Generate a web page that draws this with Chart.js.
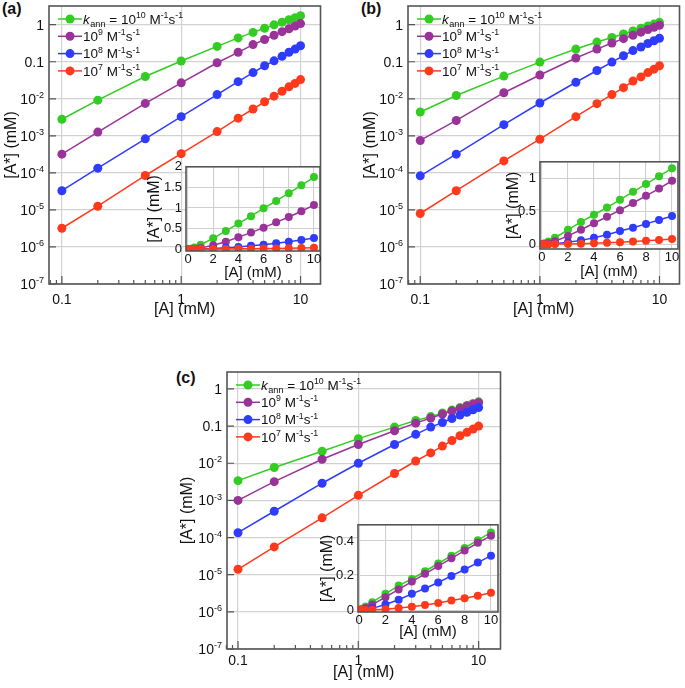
<!DOCTYPE html>
<html>
<head>
<meta charset="utf-8">
<script src="https://cdn.jsdelivr.net/npm/chart.js@4.4.0/dist/chart.umd.min.js"></script>
<style>
  body { margin: 0; background: #fff; width: 685px; height: 688px; overflow: hidden; position: relative;
         font-family: "Liberation Sans", Arial, sans-serif; }
  canvas { position: absolute; }
  .panel { position: absolute; font-weight: bold; font-size: 16px; line-height: 16px; color: #111; }
</style>
</head>
<body>
<div class="panel" style="left:2px;top:1px">(a)</div>
<div class="panel" style="left:361px;top:1px">(b)</div>
<div class="panel" style="left:176px;top:370px">(c)</div>
<script>
// concentrations of A (mM)
const xVals = [0.1, 0.2, 0.5, 1, 2, 3, 4, 5, 6, 7, 8, 9, 10];

// panel (a)
const aGreen  = [2.8e-3, 9.2e-3, 0.040, 0.105, 0.26, 0.44, 0.62, 0.80, 0.99, 1.17, 1.36, 1.55, 1.75];
const aPurple = [3.2e-4, 1.26e-3, 7.5e-3, 0.027, 0.094, 0.18, 0.29, 0.40, 0.52, 0.65, 0.78, 0.92, 1.07];
const aBlue   = [3.3e-5, 1.34e-4, 8.3e-4, 3.3e-3, 0.013, 0.029, 0.051, 0.078, 0.106, 0.14, 0.18, 0.22, 0.27];
const aRed    = [3.2e-6, 1.26e-5, 8.5e-5, 3.3e-4, 1.3e-3, 3.0e-3, 5.3e-3, 8.3e-3, 0.0118, 0.016, 0.021, 0.026, 0.033];

// panel (b)
const bGreen  = [4.4e-3, 0.0123, 0.041, 0.098, 0.22, 0.34, 0.45, 0.56, 0.68, 0.80, 0.92, 1.04, 1.16];
const bPurple = [7.5e-4, 2.6e-3, 0.0146, 0.044, 0.126, 0.22, 0.32, 0.42, 0.52, 0.63, 0.74, 0.85, 0.97];
const bBlue   = [8.3e-5, 3.2e-4, 2.0e-3, 7.7e-3, 0.028, 0.058, 0.098, 0.145, 0.20, 0.25, 0.31, 0.37, 0.43];
const bRed    = [8.0e-6, 3.3e-5, 2.1e-4, 8.1e-4, 3.3e-3, 7.4e-3, 0.013, 0.020, 0.030, 0.039, 0.051, 0.063, 0.078];

// panel (c)
const cGreen  = [3.4e-3, 7.7e-3, 0.021, 0.046, 0.094, 0.142, 0.18, 0.225, 0.27, 0.315, 0.36, 0.405, 0.45];
const cPurple = [1.0e-3, 3.2e-3, 0.0128, 0.032, 0.075, 0.12, 0.165, 0.21, 0.255, 0.30, 0.345, 0.39, 0.43];
const cBlue   = [1.35e-4, 5.1e-4, 2.9e-3, 0.010, 0.032, 0.060, 0.094, 0.125, 0.16, 0.198, 0.235, 0.275, 0.315];
const cRed    = [1.4e-5, 5.6e-5, 3.4e-4, 1.37e-3, 5.3e-3, 0.0115, 0.019, 0.029, 0.041, 0.055, 0.068, 0.083, 0.10];

// legend entries (^{} superscript, _{} subscript, *..* italic)
const seriesLabels = ['*k*_{ann} = 10^{10} M^{-1}s^{-1}', '10^{9} M^{-1}s^{-1}', '10^{8} M^{-1}s^{-1}', '10^{7} M^{-1}s^{-1}'];
const colors = ['#33cc22', '#993399', '#2f3cff', '#ff3a1c'];

// main (log-log) axes
const logXTicks = [0.1, 1, 10];
const logXLabels = ['0.1', '1', '10'];
const logXMinor = [0.08, 0.09, 0.2, 0.3, 0.4, 0.5, 0.6, 0.7, 0.8, 0.9, 2, 3, 4, 5, 6, 7, 8, 9];
const logYTicks = [1e-7, 1e-6, 1e-5, 1e-4, 1e-3, 1e-2, 0.1, 1];
const logYLabels = ['10^{-7}', '10^{-6}', '10^{-5}', '10^{-4}', '10^{-3}', '10^{-2}', '0.1', '1'];

// inset (linear) axes
const linXTicks = [0, 2, 4, 6, 8, 10];
const linXLabels = ['0', '2', '4', '6', '8', '10'];
const aInsetYTicks = [0, 0.5, 1, 1.5, 2];
const aInsetYLabels = ['0', '0.5', '1', '1.5', '2'];
const bInsetYTicks = [0, 0.5, 1];
const bInsetYLabels = ['0', '0.5', '1'];
const cInsetYTicks = [0, 0.2, 0.4];
const cInsetYLabels = ['0', '0.2', '0.4'];

const FONT = '"Liberation Sans", Arial, sans-serif';

function parseRich(s) {
  const out = [];
  const re = /\^\{([^}]*)\}|_\{([^}]*)\}|\*([^*]*)\*|([^^_*]+)/g;
  let m;
  while ((m = re.exec(s))) {
    if (m[1] !== undefined) out.push({ t: m[1], k: 'sup' });
    else if (m[2] !== undefined) out.push({ t: m[2], k: 'sub' });
    else if (m[3] !== undefined) out.push({ t: m[3], k: 'it' });
    else out.push({ t: m[4], k: 'n' });
  }
  return out;
}

function partFont(k, size) {
  if (k === 'sup') return (size * 0.65) + 'px ' + FONT;
  if (k === 'sub') return (size * 0.68) + 'px ' + FONT;
  if (k === 'it') return 'italic ' + size + 'px ' + FONT;
  return size + 'px ' + FONT;
}

function richWidth(ctx, text, size) {
  let w = 0;
  parseRich(text).forEach(p => { ctx.font = partFont(p.k, size); w += ctx.measureText(p.t).width; });
  return w;
}

// y is the vertical middle of the base text
function drawRich(ctx, text, x, y, size) {
  ctx.textBaseline = 'alphabetic';
  ctx.textAlign = 'left';
  ctx.fillStyle = '#111';
  const base = y + size * 0.36;
  parseRich(text).forEach(p => {
    let by = base;
    if (p.k === 'sup') by = base - size * 0.42;
    else if (p.k === 'sub') by = base + size * 0.22;
    ctx.font = partFont(p.k, size);
    ctx.fillText(p.t, x, by);
    x += ctx.measureText(p.t).width + (p.k === 'it' ? 0.5 : 0);
  });
}

const framePlugin = {
  id: 'frame',
  beforeDraw(c, args, o) {
    if (!o.fill) return;
    const a = c.chartArea;
    c.ctx.save();
    c.ctx.fillStyle = '#fff';
    c.ctx.fillRect(a.left, a.top, a.right - a.left, a.bottom - a.top);
    c.ctx.restore();
  },
  afterDraw(c, args, o) {
    const a = c.chartArea, ctx = c.ctx;
    ctx.save();
    ctx.strokeStyle = '#555';
    ctx.lineWidth = 1.6;
    ctx.strokeRect(a.left, a.top, a.right - a.left, a.bottom - a.top);
    if (o.ticks) {
      const xs = c.scales.x, ys = c.scales.y;
      ctx.lineWidth = 1.2;
      ctx.beginPath();
      xs.ticks.forEach(t => { const p = xs.getPixelForValue(t.value); ctx.moveTo(p, a.bottom); ctx.lineTo(p, a.bottom - 8); });
      (o.minor || []).forEach(v => { const p = xs.getPixelForValue(v); ctx.moveTo(p, a.bottom); ctx.lineTo(p, a.bottom - 4); });
      ys.ticks.forEach(t => { const p = ys.getPixelForValue(t.value); ctx.moveTo(a.left, p); ctx.lineTo(a.left + 7, p); });
      ctx.stroke();
      // y tick labels with real superscripts, placed by the y scale
      ys.ticks.forEach((t, i) => {
        const txt = logYLabels[i];
        const w = richWidth(ctx, txt, 14);
        drawRich(ctx, txt, a.left - 5 - w, ys.getPixelForValue(t.value), 14);
      });
    }
    ctx.restore();
  }
};

const legendPlugin = {
  id: 'richLegend',
  afterDraw(c, args, o) {
    if (!o.show) return;
    const a = c.chartArea, ctx = c.ctx;
    ctx.save();
    c.data.datasets.forEach((ds, i) => {
      const y = a.top + 13 + i * 17.3, x0 = a.left + 9;
      ctx.strokeStyle = ds.borderColor;
      ctx.lineWidth = 1.5;
      ctx.beginPath(); ctx.moveTo(x0, y); ctx.lineTo(x0 + 24, y); ctx.stroke();
      ctx.fillStyle = ds.borderColor;
      ctx.beginPath(); ctx.arc(x0 + 12, y, 4.5, 0, Math.PI * 2); ctx.fill();
      drawRich(ctx, ds.label, x0 + 25, y, 13.5);
    });
    ctx.restore();
  }
};

function makeCanvas(left, top, w, h) {
  const cv = document.createElement('canvas');
  cv.width = w; cv.height = h;
  cv.style.left = left + 'px'; cv.style.top = top + 'px';
  document.body.appendChild(cv);
  return cv;
}

function datasets(series, radius) {
  return series.map((s, i) => ({
    label: seriesLabels[i],
    data: xVals.map((x, j) => ({ x: x, y: s[j] })),
    borderColor: colors[i],
    backgroundColor: colors[i],
    borderWidth: 1.5,
    pointRadius: radius,
    pointHoverRadius: radius,
    pointBorderWidth: 0,
    order: 3 - i
  }));
}

function mainChart(b, series) {
  const left = b.L - 49, top = b.T - 6;
  const cv = makeCanvas(left, top, b.R + 4 - left, b.B + 40 - top);
  new Chart(cv, {
    type: 'line',
    data: { datasets: datasets(series, 4.5) },
    options: {
      responsive: false, animation: false, events: [],
      layout: { padding: { left: 0, top: 6, right: 4, bottom: 0 } },
      plugins: { legend: { display: false }, tooltip: { enabled: false },
                 frame: { ticks: true, minor: logXMinor }, richLegend: { show: true } },
      scales: {
        x: {
          type: 'logarithmic', min: b.xmin, max: b.xmax,
          afterBuildTicks: s => { s.ticks = logXTicks.map(v => ({ value: v })); },
          afterFit: s => { s.height = 40; },
          grid: { color: '#d2d2d2', lineWidth: 1.2, drawTicks: false },
          border: { display: false },
          ticks: { callback: (v, i) => logXLabels[i], padding: b.xlp, autoSkip: false, maxRotation: 0,
                   color: '#111', font: { family: FONT, size: 14 } },
          title: { display: true, text: '[A] (mM)', color: '#111', font: { family: FONT, size: 16 },
                   padding: { top: 0, bottom: b.xtp } }
        },
        y: {
          type: 'logarithmic', min: 1e-7, max: b.ymax,
          afterBuildTicks: s => { s.ticks = logYTicks.map(v => ({ value: v })); },
          afterFit: s => { s.width = 49; },
          grid: { color: '#d2d2d2', lineWidth: 1.2, drawTicks: false },
          border: { display: false },
          ticks: { display: false },
          title: { display: true, text: '[A*] (mM)', color: '#111', font: { family: FONT, size: 16 },
                   padding: { top: b.ytp, bottom: 0 } }
        }
      }
    },
    plugins: [framePlugin, legendPlugin]
  });
}

function insetChart(b, series, yTicks, yLabels) {
  const left = b.L - 42, top = b.T - 8;
  const cv = makeCanvas(left, top, b.R + 8 - left, b.B + 34 - top);
  new Chart(cv, {
    type: 'line',
    data: { datasets: datasets(series, 4) },
    options: {
      responsive: false, animation: false, events: [],
      layout: { padding: { left: 0, top: 8, right: 8, bottom: 0 } },
      plugins: { legend: { display: false }, tooltip: { enabled: false },
                 frame: { fill: true }, richLegend: { show: false } },
      scales: {
        x: {
          type: 'linear', min: b.xmin, max: b.xmax,
          afterBuildTicks: s => { s.ticks = linXTicks.map(v => ({ value: v })); },
          afterFit: s => { s.height = 34; },
          grid: { color: '#cfcfcf', lineWidth: 1.1, drawTicks: false },
          border: { display: false },
          ticks: { callback: (v, i) => linXLabels[i], padding: 1, autoSkip: false, maxRotation: 0,
                   color: '#111', font: { family: FONT, size: 13 } },
          title: { display: true, text: '[A] (mM)', color: '#111', font: { family: FONT, size: 15 },
                   padding: { top: 0, bottom: b.xtp } }
        },
        y: {
          type: 'linear', min: b.ymin, max: b.ymax,
          afterBuildTicks: s => { s.ticks = yTicks.map(v => ({ value: v })); },
          afterFit: s => { s.width = 42; },
          grid: { color: '#cfcfcf', lineWidth: 1.1, drawTicks: false },
          border: { display: false },
          ticks: { callback: (v, i) => yLabels[i], padding: 4, autoSkip: false,
                   color: '#111', font: { family: FONT, size: 13 } },
          title: { display: true, text: '[A*] (mM)', color: '#111', font: { family: FONT, size: 16 },
                   padding: { top: b.ytp, bottom: 0 } }
        }
      }
    },
    plugins: [framePlugin]
  });
}

mainChart({ L: 49, T: 6, R: 321, B: 284, xmin: 0.078, xmax: 14.7, ymax: 3.2, xlp: 8, xtp: 4.4, ytp: 2.4 },
          [aGreen, aPurple, aBlue, aRed]);
mainChart({ L: 408, T: 6, R: 680, B: 284, xmin: 0.079, xmax: 14.7, ymax: 3.2, xlp: 8, xtp: 4.4, ytp: 2.4 },
          [bGreen, bPurple, bBlue, bRed]);
mainChart({ L: 227, T: 372, R: 501, B: 649, xmin: 0.081, xmax: 15.2, ymax: 2.86, xlp: 3.5, xtp: 6.4, ytp: 0.4 },
          [cGreen, cPurple, cBlue, cRed]);

insetChart({ L: 186, T: 163, R: 320, B: 251, xmin: -0.16, xmax: 10.48, ymin: -0.047, ymax: 2.0, xtp: 3, ytp: 1.4 },
           [aGreen, aPurple, aBlue, aRed], aInsetYTicks, aInsetYLabels);
insetChart({ L: 540, T: 158, R: 678, B: 249, xmin: -0.15, xmax: 10.46, ymin: -0.074, ymax: 1.26, xtp: 2, ytp: 5.9 },
           [bGreen, bPurple, bBlue, bRed], bInsetYTicks, bInsetYLabels);
insetChart({ L: 358, T: 521, R: 498, B: 612, xmin: -0.08, xmax: 10.53, ymin: -0.011, ymax: 0.494, xtp: 5, ytp: 2.4 },
           [cGreen, cPurple, cBlue, cRed], cInsetYTicks, cInsetYLabels);
</script>
</body>
</html>
